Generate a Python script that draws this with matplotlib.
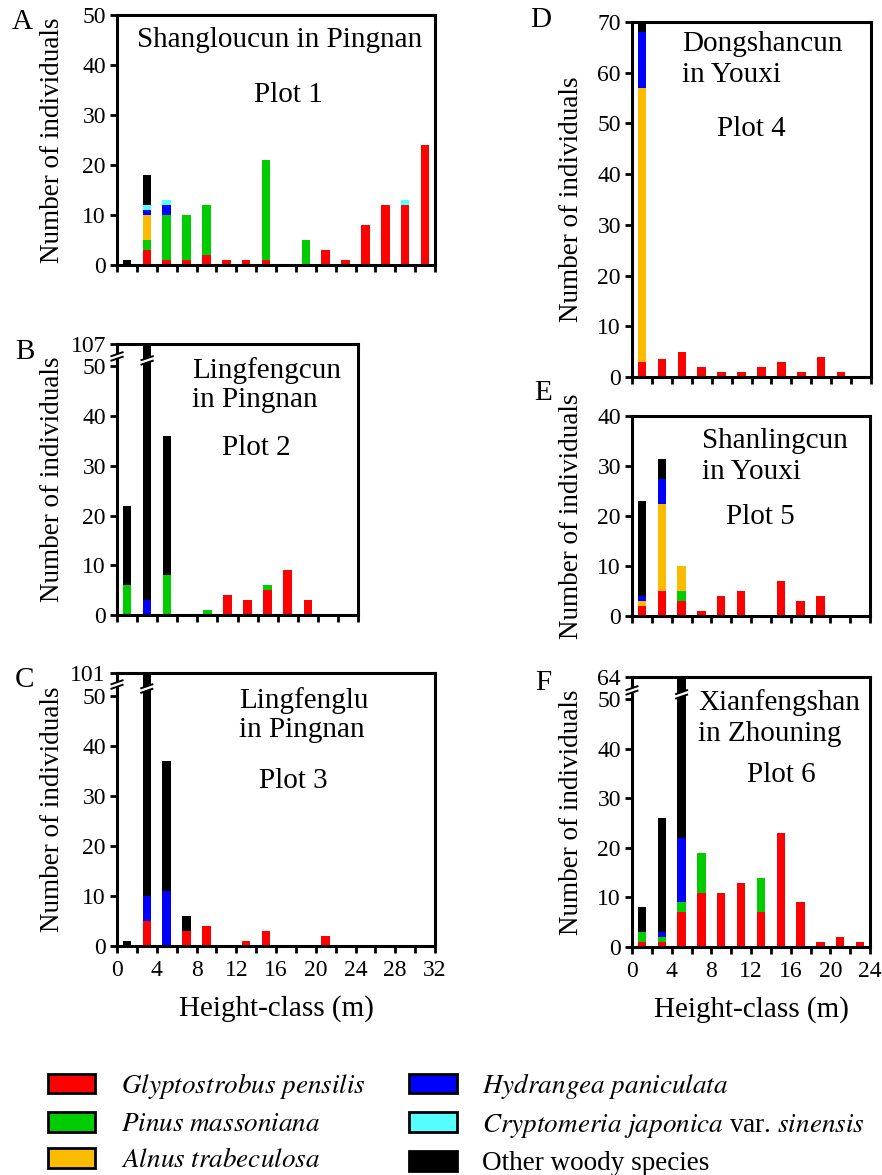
import numpy as np
import matplotlib
matplotlib.use("Agg")
import matplotlib.pyplot as plt
from matplotlib.patches import Patch, Polygon

plt.rcParams['font.family'] = ['Liberation Serif', 'DejaVu Serif']
plt.rcParams['mathtext.fontset'] = 'stix'

W, H = 882, 1175

# species (stack order bottom -> top) and colours
species = [r"$\mathit{Glyptostrobus\ pensilis}$",
           r"$\mathit{Pinus\ massoniana}$",
           r"$\mathit{Alnus\ trabeculosa}$",
           r"$\mathit{Hydrangea\ paniculata}$",
           r"$\mathit{Cryptomeria\ japonica}$ var. $\mathit{sinensis}$",
           "Other woody species"]
colors = ["#ff0000", "#00cc00", "#fbbc00", "#0000ff", "#55ffff", "#000000"]

# height-class midpoints (m)
x32 = [1, 3, 5, 7, 9, 11, 13, 15, 17, 19, 21, 23, 25, 27, 29, 31]
x24 = [1, 3, 5, 7, 9, 11, 13, 15, 17, 19, 21, 23]

# Plot 1 - Shangloucun in Pingnan
a_red    = [0, 3, 1, 1, 2, 1, 1, 1, 0, 0, 3, 1, 8, 12, 12, 24]
a_green  = [0, 2, 9, 9, 10, 0, 0, 20, 0, 5, 0, 0, 0, 0, 0, 0]
a_orange = [0, 5, 0, 0, 0, 0, 0, 0, 0, 0, 0, 0, 0, 0, 0, 0]
a_blue   = [0, 1, 2, 0, 0, 0, 0, 0, 0, 0, 0, 0, 0, 0, 0, 0]
a_cyan   = [0, 1, 1, 0, 0, 0, 0, 0, 0, 0, 0, 0, 0, 0, 1, 0]
a_black  = [1, 6, 0, 0, 0, 0, 0, 0, 0, 0, 0, 0, 0, 0, 0, 0]

# Plot 2 - Lingfengcun in Pingnan (bar at 3 m reaches 107)
b_red    = [0, 0, 0, 0, 0, 4, 3, 5, 9, 3, 0, 0]
b_green  = [6, 0, 8, 0, 1, 0, 0, 1, 0, 0, 0, 0]
b_orange = [0, 0, 0, 0, 0, 0, 0, 0, 0, 0, 0, 0]
b_blue   = [0, 3, 0, 0, 0, 0, 0, 0, 0, 0, 0, 0]
b_cyan   = [0, 0, 0, 0, 0, 0, 0, 0, 0, 0, 0, 0]
b_black  = [16, 104, 28, 0, 0, 0, 0, 0, 0, 0, 0, 0]

# Plot 3 - Lingfenglu in Pingnan (bar at 3 m reaches 101)
c_red    = [0, 5, 0, 3, 4, 0, 1, 3, 0, 0, 2, 0, 0, 0, 0, 0]
c_green  = [0, 0, 0, 0, 0, 0, 0, 0, 0, 0, 0, 0, 0, 0, 0, 0]
c_orange = [0, 0, 0, 0, 0, 0, 0, 0, 0, 0, 0, 0, 0, 0, 0, 0]
c_blue   = [0, 5, 11, 0, 0, 0, 0, 0, 0, 0, 0, 0, 0, 0, 0, 0]
c_cyan   = [0, 0, 0, 0, 0, 0, 0, 0, 0, 0, 0, 0, 0, 0, 0, 0]
c_black  = [1, 91, 26, 3, 0, 0, 0, 0, 0, 0, 0, 0, 0, 0, 0, 0]

# Plot 4 - Dongshancun in Youxi
d_red    = [3, 3.5, 5, 2, 1, 1, 2, 3, 1, 4, 1, 0]
d_green  = [0, 0, 0, 0, 0, 0, 0, 0, 0, 0, 0, 0]
d_orange = [54, 0, 0, 0, 0, 0, 0, 0, 0, 0, 0, 0]
d_blue   = [11, 0, 0, 0, 0, 0, 0, 0, 0, 0, 0, 0]
d_cyan   = [0, 0, 0, 0, 0, 0, 0, 0, 0, 0, 0, 0]
d_black  = [2, 0, 0, 0, 0, 0, 0, 0, 0, 0, 0, 0]

# Plot 5 - Shanlingcun in Youxi
e_red    = [2, 5, 3, 1, 4, 5, 0, 7, 3, 4, 0, 0]
e_green  = [0, 0, 2, 0, 0, 0, 0, 0, 0, 0, 0, 0]
e_orange = [1, 17.5, 5, 0, 0, 0, 0, 0, 0, 0, 0, 0]
e_blue   = [1, 5, 0, 0, 0, 0, 0, 0, 0, 0, 0, 0]
e_cyan   = [0, 0, 0, 0, 0, 0, 0, 0, 0, 0, 0, 0]
e_black  = [19, 4, 0, 0, 0, 0, 0, 0, 0, 0, 0, 0]

# Plot 6 - Xianfengshan in Zhouning (bar at 5 m reaches 64)
f_red    = [1, 1, 7, 11, 11, 13, 7, 23, 9, 1, 2, 1]
f_green  = [2, 1, 2, 8, 0, 0, 7, 0, 0, 0, 0, 0]
f_orange = [0, 0, 0, 0, 0, 0, 0, 0, 0, 0, 0, 0]
f_blue   = [0, 1, 13, 0, 0, 0, 0, 0, 0, 0, 0, 0]
f_cyan   = [0, 0, 0, 0, 0, 0, 0, 0, 0, 0, 0, 0]
f_black  = [5, 23, 42, 0, 0, 0, 0, 0, 0, 0, 0, 0]

CUT = 54.5  # visible top of the broken axes
TFS = 21    # in-panel titles


def px_axes(l, r, t, b):
    return [l / W, 1 - b / H, (r - l) / W, (b - t) / H]


def add_break(ax, xc, hw, yc, d=0.45, g=0.45):
    poly = Polygon([(xc - hw, yc - d - g), (xc + hw, yc + d - g),
                    (xc + hw, yc + d + g), (xc - hw, yc - d + g)],
                   closed=True, fc="white", ec="none", zorder=6, clip_on=False)
    ax.add_patch(poly)
    for off in (-g, g):
        ax.plot([xc - hw, xc + hw], [yc - d + off, yc + d + off], color="black",
                lw=1.4, zorder=7, clip_on=False, solid_capstyle="butt")


def draw_panel(rect, x, stacks, xmax, ymax, yticks, ylabels, xlabels):
    ax = fig.add_axes(px_axes(*rect))
    bottom = np.zeros(len(x))
    for vals, c in zip(stacks, colors):
        vals = np.array(vals, dtype=float)
        ax.bar(x, vals, width=0.85, bottom=bottom, color=c, linewidth=0, zorder=2)
        bottom += vals
    ax.set_xlim(0, xmax)
    ax.set_ylim(0, ymax)
    xt = np.arange(0, xmax + 1, 2)
    ax.set_xticks(xt)
    if xlabels:
        ax.set_xticklabels([str(v) if v % 4 == 0 else "" for v in xt])
    else:
        ax.set_xticklabels([])
    ax.set_yticks(yticks)
    ax.set_yticklabels(ylabels)
    for s in ax.spines.values():
        s.set_linewidth(2.2)
    ax.tick_params(direction="out", length=5, width=2, labelsize=17)
    ax.tick_params(axis="y", pad=3)
    ax.tick_params(axis="x", pad=5)
    lx = (52 - rect[0]) / (rect[1] - rect[0]) if rect[0] < 300 else (571 - rect[0]) / (rect[1] - rect[0])
    ax.text(lx, 0.5, "Number of individuals",
            transform=ax.transAxes, rotation=90, ha="center", va="center", fontsize=19.5)
    return ax


fig = plt.figure(figsize=(W / 100, H / 100), dpi=100)

t10 = [0, 10, 20, 30, 40, 50]

axA = draw_panel((117, 435, 15, 265), x32,
                 [a_red, a_green, a_orange, a_blue, a_cyan, a_black],
                 32, 50, t10, [str(v) for v in t10], False)
axA.text(0.51, 0.9, "Shangloucun in Pingnan", transform=axA.transAxes,
         ha="center", va="center", fontsize=TFS)
axA.text(0.54, 0.68, "Plot 1", transform=axA.transAxes, ha="center", va="center", fontsize=TFS)

axB = draw_panel((117, 358, 344, 615), x24,
                 [b_red, b_green, b_orange, b_blue, b_cyan, b_black],
                 24, CUT, t10 + [CUT], [str(v) for v in t10] + ["107"], False)
axB.text(0.31, 0.904, "Lingfengcun", transform=axB.transAxes, ha="left", va="center", fontsize=TFS)
axB.text(0.31, 0.793, "in Pingnan", transform=axB.transAxes, ha="left", va="center", fontsize=TFS)
axB.text(0.58, 0.616, "Plot 2", transform=axB.transAxes, ha="center", va="center", fontsize=TFS)
add_break(axB, 0, 0.65, 52)
add_break(axB, 3, 0.65, 51.2)

axC = draw_panel((117, 435, 673, 946), x32,
                 [c_red, c_green, c_orange, c_blue, c_cyan, c_black],
                 32, CUT, t10 + [CUT], [str(v) for v in t10] + ["101"], True)
axC.text(0.383, 0.90, "Lingfenglu", transform=axC.transAxes, ha="left", va="center", fontsize=TFS)
axC.text(0.383, 0.79, "in Pingnan", transform=axC.transAxes, ha="left", va="center", fontsize=TFS)
axC.text(0.554, 0.604, "Plot 3", transform=axC.transAxes, ha="center", va="center", fontsize=TFS)
axC.text(0.5, -0.23, "Height-class (m)", transform=axC.transAxes, ha="center", va="center", fontsize=21)
add_break(axC, 0, 0.65, 52.2)
add_break(axC, 3, 0.65, 51.4)

t70 = [0, 10, 20, 30, 40, 50, 60, 70]
axD = draw_panel((632, 871, 22, 377), x24,
                 [d_red, d_green, d_orange, d_blue, d_cyan, d_black],
                 24, 70, t70, [str(v) for v in t70], False)
axD.text(0.21, 0.938, "Dongshancun", transform=axD.transAxes, ha="left", va="center", fontsize=TFS)
axD.text(0.21, 0.851, "in Youxi", transform=axD.transAxes, ha="left", va="center", fontsize=TFS)
axD.text(0.50, 0.70, "Plot 4", transform=axD.transAxes, ha="center", va="center", fontsize=TFS)

t40 = [0, 10, 20, 30, 40]
axE = draw_panel((632, 870, 416, 616), x24,
                 [e_red, e_green, e_orange, e_blue, e_cyan, e_black],
                 24, 40, t40, [str(v) for v in t40], False)
axE.text(0.294, 0.875, "Shanlingcun", transform=axE.transAxes, ha="left", va="center", fontsize=TFS)
axE.text(0.294, 0.72, "in Youxi", transform=axE.transAxes, ha="left", va="center", fontsize=TFS)
axE.text(0.54, 0.495, "Plot 5", transform=axE.transAxes, ha="center", va="center", fontsize=TFS)

axF = draw_panel((632, 870, 677, 947), x24,
                 [f_red, f_green, f_orange, f_blue, f_cyan, f_black],
                 24, CUT, t10 + [CUT], [str(v) for v in t10] + ["64"], True)
axF.text(0.277, 0.907, "Xianfengshan", transform=axF.transAxes, ha="left", va="center", fontsize=TFS)
axF.text(0.277, 0.79, "in Zhouning", transform=axF.transAxes, ha="left", va="center", fontsize=TFS)
axF.text(0.626, 0.637, "Plot 6", transform=axF.transAxes, ha="center", va="center", fontsize=TFS)
axF.text(0.5, -0.23, "Height-class (m)", transform=axF.transAxes, ha="center", va="center", fontsize=21)
add_break(axF, 0, 0.65, 51.8)
add_break(axF, 5, 0.65, 51.0)

# panel letters
for letter, px, py in [("A", 22, 22), ("B", 25, 352), ("C", 25, 680),
                       ("D", 541, 20), ("E", 543, 393), ("F", 543, 683)]:
    fig.text(px / W, 1 - py / H, letter, ha="center", va="center", fontsize=21)

handles = [Patch(facecolor=c, edgecolor="black", linewidth=2) for c in colors]
fig.legend(handles, species, loc="upper left", bbox_to_anchor=(48 / W, 1 - 1071 / H),
           ncol=2, frameon=False, fontsize=19.5, handlelength=1.75, handleheight=0.75,
           handletextpad=0.95, labelspacing=0.4, columnspacing=1.6,
           borderpad=0, borderaxespad=0)

fig.savefig("out.png", dpi=100)
